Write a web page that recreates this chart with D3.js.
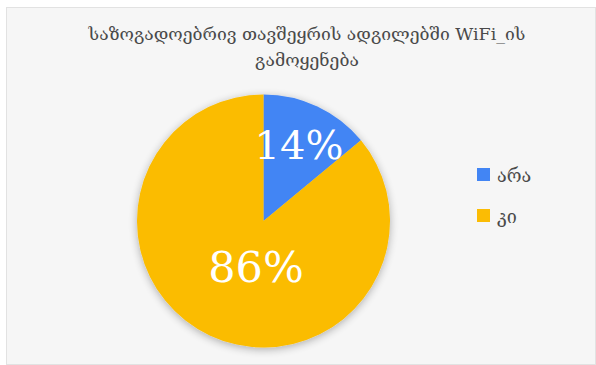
<!DOCTYPE html>
<html>
<head>
<meta charset="utf-8">
<script src="https://cdn.jsdelivr.net/npm/d3@7"></script>
<style>
  html, body { margin: 0; padding: 0; background: #ffffff; }
  svg { display: block; }
</style>
</head>
<body>
<script>
// Share of people using WiFi in public gathering places
const categories = ["არა", "კი"];
const values = [14, 86];
const colors = ["#4285f4", "#fbbc04"];
const titleLines = ["საზოგადოებრივ თავშეყრის ადგილებში WiFi_ის", "გამოყენება"];

const W = 596, H = 365;
const svg = d3.select("body").append("svg").attr("width", W).attr("height", H);

const defs = svg.append("defs");
const shadow = defs.append("filter").attr("id", "pieShadow")
  .attr("x", "-20%").attr("y", "-20%").attr("width", "140%").attr("height", "140%");
shadow.append("feGaussianBlur").attr("in", "SourceAlpha").attr("stdDeviation", 4).attr("result", "b");
shadow.append("feOffset").attr("in", "b").attr("dx", 0).attr("dy", 2).attr("result", "o");
shadow.append("feComponentTransfer").attr("in", "o").attr("result", "s")
  .append("feFuncA").attr("type", "linear").attr("slope", 0.3);
const merge = shadow.append("feMerge");
merge.append("feMergeNode").attr("in", "s");
merge.append("feMergeNode").attr("in", "SourceGraphic");

// chart frame
svg.append("rect")
  .attr("x", 6.5).attr("y", 7.5).attr("width", W - 7).attr("height", H - 8)
  .attr("fill", "#f6f6f6").attr("stroke", "#e2e2e2").attr("stroke-width", 1);

// title
svg.append("g").selectAll("text").data(titleLines).join("text")
  .attr("x", 307).attr("y", (d, i) => 40 + i * 26)
  .attr("text-anchor", "middle")
  .attr("font-family", "DejaVu Serif, serif")
  .attr("font-size", 17.5)
  .attr("fill", "#4a4a4a")
  .text(d => d);

// pie
const cx = 263.5, cy = 221, r = 126.5;
const pie = d3.pie().sort(null).value(d => d.v);
const arcs = pie(categories.map((c, i) => ({ c, v: values[i], color: colors[i] })));
const arc = d3.arc().innerRadius(0).outerRadius(r);

const g = svg.append("g").attr("transform", `translate(${cx},${cy})`);
g.append("g").attr("filter", "url(#pieShadow)")
  .selectAll("path").data(arcs).join("path")
  .attr("d", arc)
  .attr("fill", d => d.data.color);

// percentage labels, placed along each slice's bisector
const total = d3.sum(values);
const labelRadius = [0.66, 0.40];
const labelShiftX = [0, 14];
const labelSizes = [40, 43];
g.selectAll("text.lbl").data(arcs).join("text")
  .attr("class", "lbl")
  .attr("transform", (d, i) => {
    const rr = r * labelRadius[i];
    const [x, y] = d3.arc().innerRadius(rr).outerRadius(rr).centroid(d);
    return `translate(${x + labelShiftX[i]},${y})`;
  })
  .attr("text-anchor", "middle")
  .attr("dominant-baseline", "central")
  .attr("font-family", "DejaVu Serif, Liberation Serif, serif")
  .attr("font-size", (d, i) => labelSizes[i])
  .attr("fill", "#ffffff")
  .text(d => Math.round(d.data.v / total * 100) + "%");

// legend
const legend = svg.append("g").attr("transform", "translate(477,168)");
const items = legend.selectAll("g").data(categories).join("g")
  .attr("transform", (d, i) => `translate(0,${i * 41})`);
items.append("rect").attr("width", 13).attr("height", 13)
  .attr("fill", (d, i) => colors[i]);
items.append("text").attr("x", 20).attr("y", 7)
  .attr("dominant-baseline", "central")
  .attr("font-family", "DejaVu Serif, serif")
  .attr("font-size", 18)
  .attr("fill", "#4a4a4a")
  .text(d => d);
</script>
</body>
</html>
